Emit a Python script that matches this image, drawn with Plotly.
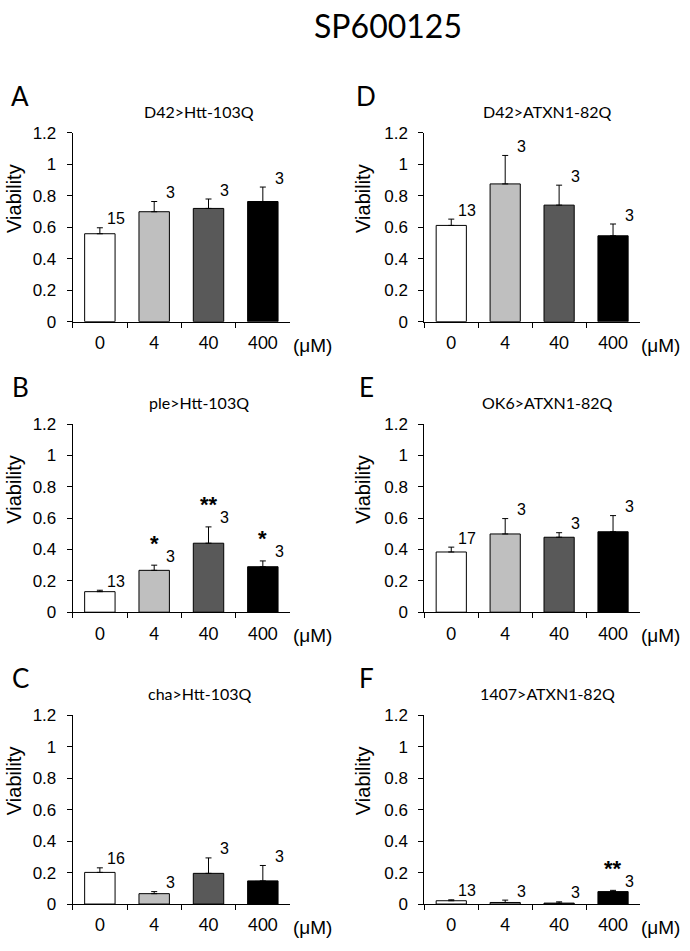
import plotly.graph_objects as go

# ---------------- data ----------------
doses = ["0", "4", "40", "400"]
bar_colors = ["#FFFFFF", "#BFBFBF", "#595959", "#000000"]

panel_letters = ["A", "D", "B", "E", "C", "F"]
panel_titles = ["D42>Htt-103Q", "D42>ATXN1-82Q", "ple>Htt-103Q",
                "OK6>ATXN1-82Q", "cha>Htt-103Q", "1407>ATXN1-82Q"]

A_mean = [0.559, 0.699, 0.720, 0.764]
A_err = [0.038, 0.065, 0.060, 0.092]
A_n = ["15", "3", "3", "3"]
A_sig = ["", "", "", ""]

D_mean = [0.612, 0.876, 0.741, 0.546]
D_err = [0.040, 0.181, 0.127, 0.075]
D_n = ["13", "3", "3", "3"]
D_sig = ["", "", "", ""]

B_mean = [0.131, 0.267, 0.440, 0.290]
B_err = [0.009, 0.033, 0.104, 0.037]
B_n = ["13", "3", "3", "3"]
B_sig = ["", "*", "**", "*"]

E_mean = [0.384, 0.499, 0.478, 0.513]
E_err = [0.031, 0.098, 0.029, 0.103]
E_n = ["17", "3", "3", "3"]
E_sig = ["", "", "", ""]

C_mean = [0.201, 0.066, 0.195, 0.147]
C_err = [0.029, 0.013, 0.098, 0.098]
C_n = ["16", "3", "3", "3"]
C_sig = ["", "", "", ""]

F_mean = [0.021, 0.010, 0.006, 0.079]
F_err = [0.006, 0.015, 0.008, 0.008]
F_n = ["13", "3", "3", "3"]
F_sig = ["", "", "", "**"]

y_ticks = [0, 0.2, 0.4, 0.6, 0.8, 1.0, 1.2]
y_tick_text = ["0", "0.2", "0.4", "0.6", "0.8", "1", "1.2"]

panels = [
    (A_mean, A_err, A_n, A_sig),
    (D_mean, D_err, D_n, D_sig),
    (B_mean, B_err, B_n, B_sig),
    (E_mean, E_err, E_n, E_sig),
    (C_mean, C_err, C_n, C_sig),
    (F_mean, F_err, F_n, F_sig),
]

# ---------------- layout geometry (pixels) ----------------
W, H = 690, 951
col_x = [(72.7, 290.0), (424.3, 640.0)]
row_y = [(126.5, 319.0), (423.5, 615.5), (720.5, 913.3)]


def fx(p):
    return p / W


def fy(p):
    return 1 - p / H


ARIAL = "Liberation Sans, Arial, sans-serif"
CALIBRI = "Lato, Open Sans, sans-serif"

fig = go.Figure()
annotations = []
layout_axes = {}

for k, (mean, err, nlab, sig) in enumerate(panels):
    r, c = divmod(k, 2)
    idx = "" if k == 0 else str(k + 1)
    xa, ya = "x" + idx, "y" + idx
    x0, x1 = col_x[c]
    ytop, ybot = row_y[r]

    fig.add_trace(go.Bar(
        x=doses, y=mean, xaxis=xa, yaxis=ya,
        width=0.56,
        marker=dict(color=bar_colors, line=dict(color="#000000", width=1)),
        error_y=dict(type="data", symmetric=False, array=err,
                     arrayminus=[0] * len(err), color="#000000",
                     thickness=1, width=3),
        showlegend=False, hoverinfo="skip",
    ))

    layout_axes["xaxis" + idx] = dict(
        domain=[fx(x0), fx(x1)], anchor=ya, type="category",
        range=[-0.5, 3.5], showline=True, linecolor="#000000", linewidth=1,
        ticks="outside", tickson="boundaries", ticklen=5, tickcolor="#000000",
        tickfont=dict(family=CALIBRI, size=17, color="#000000"),
        ticklabelstandoff=6, showgrid=False, zeroline=False, fixedrange=True,
    )
    layout_axes["yaxis" + idx] = dict(
        domain=[fy(ybot), fy(ytop)], anchor=xa, range=[0, 1.2],
        tickvals=y_ticks, ticktext=y_tick_text,
        showline=True, linecolor="#000000", linewidth=1,
        ticks="outside", ticklen=5, tickcolor="#000000",
        tickfont=dict(family=ARIAL, size=17, color="#000000"),
        ticklabelstandoff=7, showgrid=False, zeroline=False, fixedrange=True,
    )

    # n labels and significance stars
    for i in range(len(doses)):
        top = mean[i] + err[i]
        annotations.append(dict(
            x=i + 0.3, y=top, xref=xa, yref=ya, text=nlab[i],
            showarrow=False, xanchor="center", yanchor="middle", yshift=9,
            font=dict(family=ARIAL, size=16, color="#000000"),
        ))
        if sig[i]:
            annotations.append(dict(
                x=i, y=top, xref=xa, yref=ya, text="<b>" + sig[i] + "</b>",
                showarrow=False, xanchor="center", yanchor="middle", yshift=22,
                font=dict(family=ARIAL, size=22, color="#000000"),
            ))

    # panel letter
    letter_x = 20 if c == 0 else 366
    annotations.append(dict(
        x=fx(letter_x), y=fy(ytop - 38), xref="paper", yref="paper",
        text=panel_letters[k], showarrow=False, xanchor="center", yanchor="middle",
        font=dict(family=CALIBRI, size=26, color="#000000"),
    ))
    # panel title
    title_x = 199 if c == 0 else 547
    annotations.append(dict(
        x=fx(title_x), y=fy(ytop - 22), xref="paper", yref="paper",
        text=panel_titles[k], showarrow=False, xanchor="center", yanchor="middle",
        font=dict(family=CALIBRI, size=16, color="#000000"),
    ))
    # y-axis title
    vx = 14 if c == 0 else 363
    annotations.append(dict(
        x=fx(vx), y=fy((ytop + ybot) / 2 - 29), xref="paper", yref="paper",
        text="Viability", textangle=-90, showarrow=False,
        xanchor="center", yanchor="middle",
        font=dict(family=ARIAL, size=20, color="#000000"),
    ))
    # unit label
    ux = 312 if c == 0 else 660
    annotations.append(dict(
        x=fx(ux), y=fy(ybot + 24), xref="paper", yref="paper",
        text="(μM)", showarrow=False, xanchor="center", yanchor="middle",
        font=dict(family=ARIAL, size=19, color="#000000"),
    ))

# main title
annotations.append(dict(
    x=fx(388), y=fy(17), xref="paper", yref="paper", text="SP600125",
    showarrow=False, xanchor="center", yanchor="middle",
    font=dict(family=CALIBRI, size=32, color="#000000"),
))

fig.update_layout(
    width=W, height=H, margin=dict(l=0, r=0, t=0, b=0),
    paper_bgcolor="#FFFFFF", plot_bgcolor="#FFFFFF",
    annotations=annotations, bargap=0.44, **layout_axes,
)

fig.write_html("out.html", config={"displayModeBar": False},
               post_script="document.body.style.margin='0';document.body.style.overflow='hidden';")
